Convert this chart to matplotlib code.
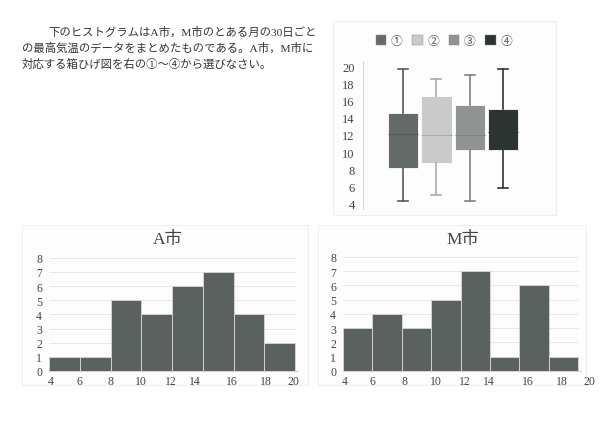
import matplotlib.pyplot as plt
from matplotlib.patches import Patch, Rectangle

plt.rcParams['font.family'] = ['Liberation Serif', 'Noto Sans CJK JP']

# 問題文
question = [
    "下のヒストグラムはA市，M市のとある月の30日ごと",
    "の最高気温のデータをまとめたものである。A市，M市に",
    "対応する箱ひげ図を右の①～④から選びなさい。",
]

# 箱ひげ図 (最小, Q1, 中央値, Q3, 最大)
box_labels = ["①", "②", "③", "④"]
box_min = [4.3, 5.0, 4.4, 5.9]
box_q1 = [8.2, 8.8, 10.25, 10.25]
box_med = [12.1, 12.0, 12.0, 12.4]
box_q3 = [14.5, 16.5, 15.5, 15.0]
box_max = [19.7, 18.5, 18.9, 19.7]
box_colors = ["#646a67", "#c9cac9", "#8f9391", "#2e3431"]
line_colors = ["#555b58", "#a9abaa", "#7d817f", "#2e3431"]

# ヒストグラム
bin_edges = [4, 6, 8, 10, 12, 14, 16, 18, 20]
a_counts = [1, 1, 5, 4, 6, 7, 4, 2]
m_counts = [3, 4, 3, 5, 7, 1, 6, 1]
tick_text = ["4", "6", "8", "10", "12", "14", "16", "18", "20"]
a_tick_pos = [4.1, 6.0, 8.0, 10.0, 11.9, 13.5, 15.9, 18.1, 19.9]
m_tick_pos = [4.1, 6.0, 8.2, 10.3, 12.3, 13.9, 16.6, 18.9, 20.8]

W, H = 600, 439
fig = plt.figure(figsize=(6, 4.39), dpi=100)
fig.patch.set_facecolor("white")


def ax_px(x0, y0, x1, y1):
    return fig.add_axes([x0 / W, 1 - y1 / H, (x1 - x0) / W, (y1 - y0) / H])


def panel(x0, y0, x1, y1):
    fig.patches.append(Rectangle((x0 / W, 1 - y1 / H), (x1 - x0) / W, (y1 - y0) / H,
                                 transform=fig.transFigure, facecolor="#fdfdfd",
                                 edgecolor="#efefef", lw=0.8, zorder=-1))


# text
fig.text(48 / W, 1 - 32 / H, question[0], fontsize=8.2, va="center", ha="left", color="#333333")
fig.text(22 / W, 1 - 48 / H, question[1], fontsize=8.2, va="center", ha="left", color="#333333")
fig.text(22 / W, 1 - 64 / H, question[2], fontsize=8.2, va="center", ha="left", color="#333333")

# box plot
panel(333, 22, 556, 216)
bax = ax_px(363, 62, 540, 210)
stats = []
for i in range(4):
    stats.append(dict(whislo=box_min[i], q1=box_q1[i], med=box_med[i],
                      q3=box_q3[i], whishi=box_max[i], label=box_labels[i]))
for i, st in enumerate(stats):
    bax.bxp([st], positions=[i + 1], widths=0.9, showfliers=False, patch_artist=True,
            boxprops=dict(facecolor=box_colors[i], edgecolor="white", lw=0.6),
            whiskerprops=dict(color=line_colors[i], lw=1.2),
            capprops=dict(color=line_colors[i], lw=1.2),
            capwidths=0.3,
            medianprops=dict(color=line_colors[i], lw=0.8))
bax.set_xlim(-0.2, 5.1)
bax.set_ylim(3.42, 20.58)
bax.set_yticks(range(4, 21, 2))
bax.set_xticks([])
bax.patch.set_alpha(0)
for s in ["top", "right", "bottom"]:
    bax.spines[s].set_visible(False)
bax.spines["left"].set_color("#d6d6d6")
bax.tick_params(axis="y", length=0, pad=6, labelsize=9, labelcolor="#444444")
handles = [Patch(facecolor=c, edgecolor="#888888", lw=0.3) for c in box_colors]
fig.legend(handles, box_labels, ncol=4, loc="center", bbox_to_anchor=(444 / W, 1 - 42 / H),
           frameon=False, fontsize=8.5, handlelength=0.9, handleheight=0.9,
           handletextpad=0.4, columnspacing=0.8, labelcolor="#555555")


def hist(ax, counts, tick_pos, title, title_x):
    ax.bar(bin_edges[:-1], counts, width=2, align="edge", color="#5b615e",
           edgecolor="#d8dad9", lw=0.6, zorder=3)
    ax.hlines(range(1, 9), 4, 20, color="#e6e6e6", lw=0.7, zorder=1)
    ax.set_ylim(0, 8.2)
    ax.set_yticks(range(0, 9))
    ax.set_xticks(tick_pos)
    ax.set_xticklabels(tick_text)
    ax.patch.set_alpha(0)
    for s in ["top", "right", "left"]:
        ax.spines[s].set_visible(False)
    ax.spines["bottom"].set_color("#d6d6d6")
    ax.spines["bottom"].set_bounds(4, 20.2)
    ax.tick_params(length=0, labelsize=8.5, labelcolor="#444444")
    ax.tick_params(axis="y", pad=5)
    ax.tick_params(axis="x", pad=3)
    fig.text(title_x / W, 1 - 240 / H, title, fontsize=12.5, ha="center", va="center",
             color="#444444")


panel(22, 226, 308, 386)
aax = ax_px(49, 256, 299, 372)
hist(aax, a_counts, a_tick_pos, "A市", 168)
aax.set_xlim(4, 20.25)

panel(318, 226, 586, 386)
max_ = ax_px(343, 255, 592, 372)
hist(max_, m_counts, m_tick_pos, "M市", 463)
max_.set_xlim(4, 20.95)

fig.savefig("out.png", dpi=100)
